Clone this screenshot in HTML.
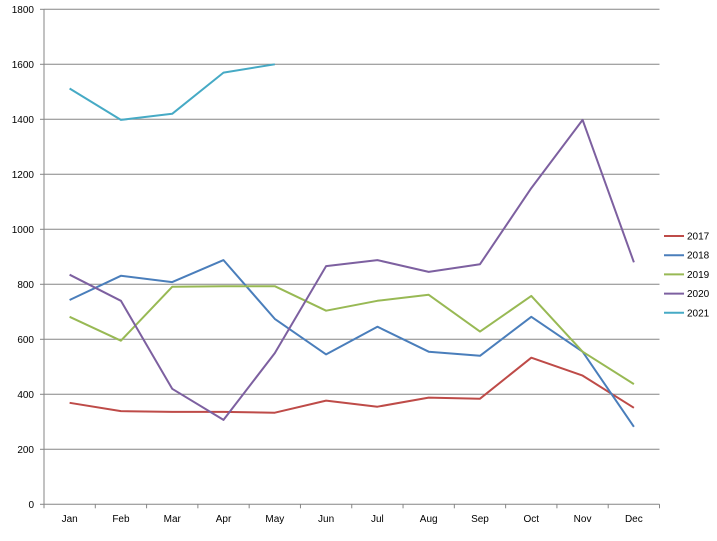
<!DOCTYPE html>
<html><head><meta charset="utf-8"><style>
body{margin:0;background:#fff;}
svg{display:block;font-family:"Liberation Sans",sans-serif;}
</style></head><body>
<svg id="chart" width="717" height="541" viewBox="0 0 717 541" xmlns="http://www.w3.org/2000/svg">
<g id="grid"></g>
<g id="axes"></g>
<g id="series"></g>
<g id="legend"></g>
</svg>
<script>
const categories = ["Jan","Feb","Mar","Apr","May","Jun","Jul","Aug","Sep","Oct","Nov","Dec"];
const yTicks = [0,200,400,600,800,1000,1200,1400,1600,1800];
const seriesNames = ["2017","2018","2019","2020","2021"];
const s2017 = [369,339,336,336,333,377,355,388,384,533,468,351];
const s2018 = [743,831,808,888,674,545,646,555,540,682,555,282];
const s2019 = [682,595,791,793,793,704,740,762,628,758,555,437];
const s2020 = [835,740,420,307,550,866,888,845,873,1150,1398,880];
const s2021 = [1512,1398,1420,1570,1600];
const colors = ["#be4b48","#4a7ebb","#98b954","#7d60a0","#46aac5"];
const allSeries = [s2017,s2018,s2019,s2020,s2021];

const NS = "http://www.w3.org/2000/svg";
const X0 = 44, X1 = 659.5, Y0 = 504.3, Y1 = 9.3, YMAX = 1800;
const band = (X1 - X0) / categories.length;
function xPos(i){ return X0 + band * (i + 0.5); }
function yPos(v){ return Y0 - (v / YMAX) * (Y0 - Y1); }
function mk(tag, attrs, parent){ const e=document.createElementNS(NS,tag); for(const k in attrs) e.setAttribute(k,attrs[k]); parent.appendChild(e); return e; }

const grid=document.getElementById('grid'), axes=document.getElementById('axes'), ser=document.getElementById('series'), leg=document.getElementById('legend');

yTicks.forEach(t=>{
  const y=yPos(t);
  if(t>0){ const l=mk('line',{x1:X0,x2:X1,y1:y,y2:y,stroke:'#868686','stroke-width':1},grid);
    
     }
  const tk=mk('line',{x1:X0-4,x2:X0,y1:y,y2:y,stroke:'#868686'},axes);
  
  
  const tx=mk('text',{x:X0-10,y:y+3.5,'text-anchor':'end','font-size':'10',fill:'#000'},axes);
  tx.textContent=t;
  
  
});
const ya=mk('line',{x1:X0,x2:X0,y1:Y1,y2:Y0,stroke:'#868686'},axes);


const xa=mk('line',{x1:X0,x2:X1,y1:Y0,y2:Y0,stroke:'#868686'},axes);


for(let i=0;i<=categories.length;i++){
  const x=X0+band*i;
  const tk=mk('line',{x1:x,x2:x,y1:Y0,y2:Y0+4,stroke:'#868686'},axes);
  
  
}
categories.forEach((c,i)=>{
  const tx=mk('text',{x:xPos(i),y:522,'text-anchor':'middle','font-size':'10',fill:'#000'},axes);
  tx.textContent=c;
  
  
});
allSeries.forEach((arr,si)=>{
  const pts=arr.map((v,i)=>xPos(i).toFixed(1)+','+yPos(v).toFixed(1)).join(' ');
  const p=mk('polyline',{points:pts,fill:'none',stroke:colors[si],'stroke-width':2,'stroke-linejoin':'round'},ser);
  
  
  const ly=236+si*19.2;
  const g=mk('g',{},leg);
  
  
  mk('line',{x1:664,x2:684,y1:ly,y2:ly,stroke:colors[si],'stroke-width':2},g);
  const t=mk('text',{x:687,y:ly+3.5,'font-size':'10',fill:'#000'},g);
  t.textContent=seriesNames[si];
});
</script>
</body></html>
